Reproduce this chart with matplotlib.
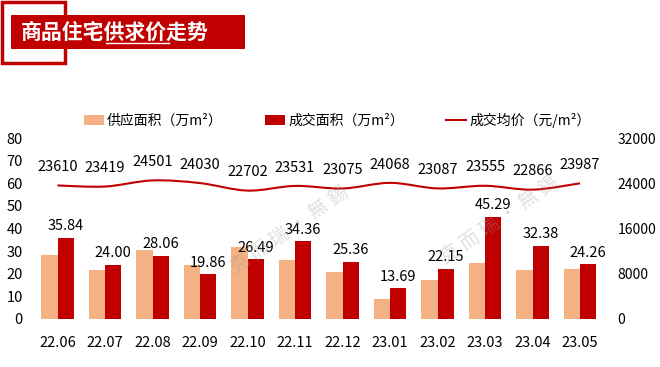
import numpy as np
import matplotlib.pyplot as plt
from matplotlib.path import Path
from matplotlib.patches import PathPatch, Rectangle

plt.rcParams['font.family'] = ['Noto Sans CJK SC', 'DejaVu Sans']

# ---------------- data ----------------
months = ['22.06', '22.07', '22.08', '22.09', '22.10', '22.11',
          '22.12', '23.01', '23.02', '23.03', '23.04', '23.05']
supply = [28.4, 21.8, 30.5, 24.0, 32.0, 26.2, 20.8, 8.7, 17.3, 24.6, 21.7, 22.1]
deal = [35.84, 24.00, 28.06, 19.86, 26.49, 34.36, 25.36, 13.69, 22.15, 45.29, 32.38, 24.26]
price = [23610, 23419, 24501, 24030, 22702, 23531, 23075, 24068, 23087, 23555, 22866, 23987]

orange = '#F4B183'
red = '#C00000'

fig = plt.figure(figsize=(6.6, 3.67), dpi=100)
ax = fig.add_axes([33.75 / 660, 1 - 319 / 367, 570 / 660, 181 / 367])
ax2 = ax.twinx()

x = np.arange(len(months))
w = 0.34
ax.bar(x - w / 2, supply, w, color=orange, label='供应面积（万m²）', zorder=2)
ax.bar(x + w / 2, deal, w, color=red, label='成交面积（万m²）', zorder=2)
for xi, v in zip(x, deal):
    ax.text(xi + w / 2, v + 2, f'{v:.2f}', ha='center', va='bottom', fontsize=10.5)

# smooth price line (Catmull-Rom drawn as bezier path)
pts = np.column_stack([x, price]).astype(float)
verts = [tuple(pts[0])]
codes = [Path.MOVETO]
for i in range(len(pts) - 1):
    p0 = pts[i - 1] if i > 0 else pts[i]
    p1, p2 = pts[i], pts[i + 1]
    p3 = pts[i + 2] if i + 2 < len(pts) else pts[i + 1]
    c1 = p1 + (p2 - p0) / 6
    c2 = p2 - (p3 - p1) / 6
    verts += [tuple(c1), tuple(c2), tuple(p2)]
    codes += [Path.CURVE4] * 3
ax2.add_patch(PathPatch(Path(verts, codes), fill=False, edgecolor=red, lw=1.5, zorder=3))
ax2.plot([], [], color=red, lw=1.5, label='成交均价（元/m²）')
for xi, v in zip(x, price):
    ax2.text(xi, v + 2000, str(v), ha='center', va='bottom', fontsize=10.5)

ax.set_xlim(-0.5, 11.5)
ax.set_ylim(0, 80)
ax2.set_ylim(0, 32000)
ax.set_yticks(range(0, 81, 10))
ax2.set_yticks(range(0, 32001, 8000))
ax.set_xticks(x)
ax.set_xticklabels(months)
for a in (ax, ax2):
    for s in a.spines.values():
        s.set_visible(False)
    a.tick_params(length=0, labelsize=10.5)
ax.tick_params(axis='x', pad=12)
ax.tick_params(axis='y', pad=8)
ax2.tick_params(axis='y', pad=10, labelsize=10)

h1, l1 = ax.get_legend_handles_labels()
h2, l2 = ax2.get_legend_handles_labels()
fig.legend(h1 + h2, l1 + l2, loc='center', bbox_to_anchor=(337 / 660, 1 - 120 / 367),
           ncol=3, frameon=False, fontsize=10, handlelength=1.5, handleheight=0.7,
           columnspacing=3.0, handletextpad=0.2)

# title block
fig.patches.append(Rectangle((1.5 / 660, 1 - 63 / 367), 63 / 660, 61 / 367, transform=fig.transFigure,
                             fill=False, edgecolor=red, lw=2.5))
fig.patches.append(Rectangle((11 / 660, 1 - 49 / 367), 234 / 660, 34 / 367, transform=fig.transFigure,
                             facecolor=red, edgecolor='none'))
fig.text(21 / 660, 1 - 32 / 367, '商品住宅供求价走势', color='white', fontsize=15,
         fontweight='bold', va='center', ha='left')
fig.add_artist(plt.Line2D([106 / 660, 169 / 660], [1 - 43 / 367, 1 - 43 / 367], color='white', lw=1))

# watermark
for wx, wy in [(290, 230), (500, 220)]:
    fig.text(wx / 660, 1 - wy / 367, '克 而 瑞 · 無 錫', rotation=35, color='#999999', alpha=0.3,
             fontsize=14, ha='center', va='center')

fig.savefig('out.png', dpi=100)
